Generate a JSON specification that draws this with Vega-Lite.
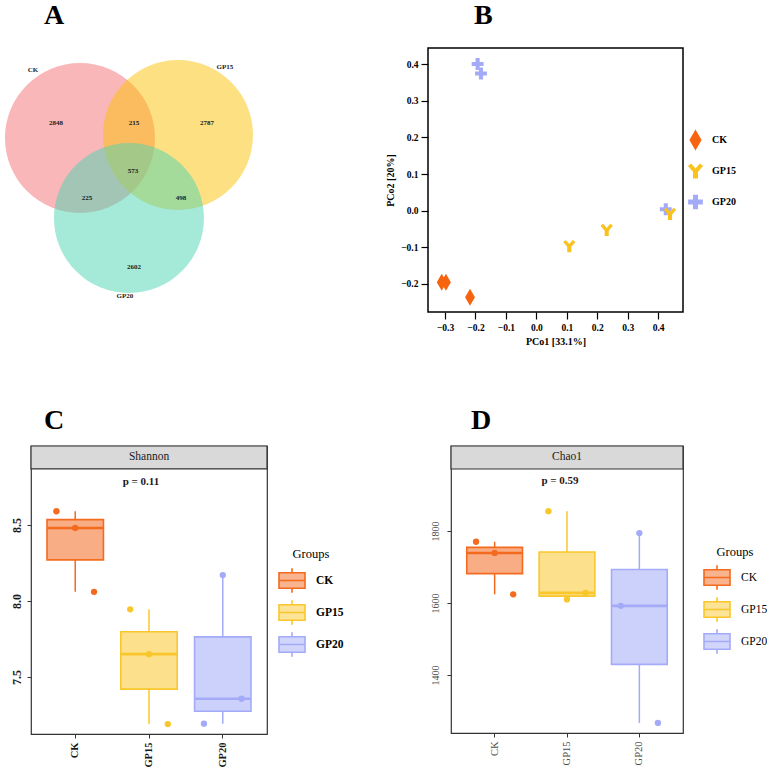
{
  "$schema": "https://vega.github.io/schema/vega-lite/v6.json",
  "background": "white",
  "padding": {"left": 4, "top": 1, "right": 0, "bottom": 0},
  "config": {
    "font": "Liberation Serif",
    "view": {"stroke": null},
    "title": {"font": "Liberation Serif", "fontSize": 28, "fontWeight": "bold", "anchor": "start", "frame": "group", "baseline": "alphabetic", "color": "black"},
    "axis": {"labelFont": "Liberation Serif", "titleFont": "Liberation Serif", "grid": false, "domain": false, "labelOverlap": false},
    "legend": {"labelFont": "Liberation Serif", "titleFont": "Liberation Serif"},
    "text": {"font": "Liberation Serif"}
  },
  "spacing": 58,
  "resolve": {
    "scale": {"color": "independent", "shape": "independent", "stroke": "independent"},
    "legend": {"color": "independent", "shape": "independent", "stroke": "independent"}
  },
  "vconcat": [
    {
      "bounds": "flush",
      "spacing": 184,
      "resolve": {
        "scale": {"color": "independent", "shape": "independent", "stroke": "independent"},
        "legend": {"color": "independent", "shape": "independent", "stroke": "independent"}
      },
      "hconcat": [
        {
          "width": 213,
          "height": 264,
          "title": {"text": "A", "dx": 13, "offset": 18},
          "layer": [
            {
              "data": {"values": [
                {"set": "CK", "cx": 0, "cy": 0},
                {"set": "GP15", "cx": 1.307, "cy": 0.04},
                {"set": "GP20", "cx": 0.653, "cy": -1.067}
              ]},
              "mark": {"type": "point", "shape": "circle", "filled": true, "size": 22500, "opacity": 0.5, "strokeWidth": 0},
              "encoding": {
                "x": {"field": "cx", "type": "quantitative", "scale": {"domain": [-0.653, 2.187], "nice": false, "zero": false}, "axis": null},
                "y": {"field": "cy", "type": "quantitative", "scale": {"domain": [-2.32, 1.2], "nice": false, "zero": false}, "axis": null},
                "color": {"field": "set", "type": "nominal", "scale": {"domain": ["CK", "GP15", "GP20"], "range": ["#F56F73", "#FBC105", "#4BD3B1"]}, "legend": null}
              }
            },
            {
              "data": {"values": [
                {"label": "CK", "ux": -0.627, "uy": 0.907},
                {"label": "GP15", "ux": 1.933, "uy": 0.947},
                {"label": "GP20", "ux": 0.6, "uy": -2.107},
                {"label": "2848", "ux": -0.32, "uy": 0.2},
                {"label": "215", "ux": 0.72, "uy": 0.2},
                {"label": "2787", "ux": 1.693, "uy": 0.2},
                {"label": "573", "ux": 0.707, "uy": -0.44},
                {"label": "225", "ux": 0.093, "uy": -0.8},
                {"label": "498", "ux": 1.347, "uy": -0.8},
                {"label": "2602", "ux": 0.72, "uy": -1.72}
              ]},
              "mark": {"type": "text", "fontSize": 7, "fontWeight": "bold", "color": "#1a1a1a", "baseline": "middle"},
              "encoding": {
                "x": {"field": "ux", "type": "quantitative"},
                "y": {"field": "uy", "type": "quantitative"},
                "text": {"field": "label"}
              }
            }
          ]
        },
        {
          "width": 255,
          "height": 264,
          "title": {"text": "B", "dx": 46, "offset": 18},
          "view": {"stroke": "black", "strokeWidth": 1.5},
          "layer": [
            {
              "mark": {"type": "rule", "color": "#808080", "strokeWidth": 0.9},
              "encoding": {
                "x": {
                  "datum": 0, "type": "quantitative",
                  "scale": {"domain": [-0.356, 0.4816], "nice": false, "zero": false},
                  "axis": {"values": [-0.3, -0.2, -0.1, 0, 0.1, 0.2, 0.3, 0.4], "format": ".1f", "labelOverlap": false, "labelSeparation": 0, "labelBound": false, "title": "PCo1 [33.1%]", "tickColor": "black", "tickSize": 7, "tickWidth": 1.2, "labelFontSize": 9.5, "labelFontWeight": "bold", "labelColor": "black", "labelPadding": 3, "titleFontSize": 10, "titleFontWeight": "bold", "titleColor": "black", "titlePadding": 5}
                }
              }
            },
            {
              "mark": {"type": "rule", "color": "#808080", "strokeWidth": 0.9},
              "encoding": {
                "y": {
                  "datum": 0, "type": "quantitative",
                  "scale": {"domain": [-0.2774, 0.4446], "nice": false, "zero": false},
                  "axis": {"values": [-0.2, -0.1, 0, 0.1, 0.2, 0.3, 0.4], "format": ".1f", "labelOverlap": false, "title": "PCo2 [20%]", "tickColor": "black", "tickSize": 7, "tickWidth": 1.2, "labelFontSize": 9.5, "labelFontWeight": "bold", "labelColor": "black", "labelPadding": 3, "titleFontSize": 10, "titleFontWeight": "bold", "titleColor": "black", "titlePadding": 5}
                }
              }
            },
            {
              "data": {"values": [
                {"group": "GP20", "PCo1": -0.193, "PCo2": 0.401},
                {"group": "GP20", "PCo1": -0.182, "PCo2": 0.375},
                {"group": "GP20", "PCo1": 0.425, "PCo2": 0.0035},
                {"group": "CK", "PCo1": -0.311, "PCo2": -0.196},
                {"group": "CK", "PCo1": -0.297, "PCo2": -0.196},
                {"group": "CK", "PCo1": -0.218, "PCo2": -0.237},
                {"group": "GP15", "PCo1": 0.108, "PCo2": -0.097},
                {"group": "GP15", "PCo1": 0.231, "PCo2": -0.053},
                {"group": "GP15", "PCo1": 0.439, "PCo2": -0.009}
              ]},
              "mark": {"type": "point", "filled": true, "size": 289, "opacity": 1, "strokeWidth": 0},
              "encoding": {
                "x": {
                  "field": "PCo1", "type": "quantitative",
                  "axis": {"values": [-0.3, -0.2, -0.1, 0, 0.1, 0.2, 0.3, 0.4], "format": ".1f", "labelOverlap": false, "labelSeparation": 0, "labelBound": false, "title": "PCo1 [33.1%]", "tickColor": "black", "tickSize": 7, "tickWidth": 1.2, "labelFontSize": 9.5, "labelFontWeight": "bold", "labelColor": "black", "labelPadding": 3, "titleFontSize": 10, "titleFontWeight": "bold", "titleColor": "black", "titlePadding": 5}
                },
                "y": {
                  "field": "PCo2", "type": "quantitative",
                  "axis": {"values": [-0.2, -0.1, 0, 0.1, 0.2, 0.3, 0.4], "format": ".1f", "labelOverlap": false, "title": "PCo2 [20%]", "tickColor": "black", "tickSize": 7, "tickWidth": 1.2, "labelFontSize": 9.5, "labelFontWeight": "bold", "labelColor": "black", "labelPadding": 3, "titleFontSize": 10, "titleFontWeight": "bold", "titleColor": "black", "titlePadding": 5}
                },
                "color": {
                  "field": "group", "type": "nominal",
                  "scale": {"domain": ["CK", "GP15", "GP20"], "range": ["#F7640F", "#FBC11F", "#A3ABF8"]},
                  "legend": {"title": null, "orient": "none", "legendX": 257, "legendY": 81, "symbolSize": 441, "clipHeight": 22, "rowPadding": 9, "labelFontSize": 10, "labelFontWeight": "bold", "labelColor": "black", "labelOffset": 6, "symbolStrokeWidth": 0, "padding": 0}
                },
                "shape": {
                  "field": "group", "type": "nominal",
                  "scale": {"domain": ["CK", "GP15", "GP20"], "range": [
                    "M0,-1L0.58,0L0,1L-0.58,0Z",
                    "M-0.72,-0.48L-0.42,-0.72L0,-0.24L0.42,-0.72L0.72,-0.48L0.24,0.08L0.24,0.72L-0.24,0.72L-0.24,0.08Z",
                    "M-0.24,-0.7H0.24V-0.24H0.7V0.24H0.24V0.7H-0.24V0.24H-0.7V-0.24H-0.24Z"
                  ]},
                  "legend": {"title": null, "orient": "none", "legendX": 257, "legendY": 81, "symbolSize": 441, "clipHeight": 22, "rowPadding": 9, "labelFontSize": 10, "labelFontWeight": "bold", "labelColor": "black", "labelOffset": 6, "symbolStrokeWidth": 0, "padding": 0}
                }
              }
            }
          ]
        }
      ]
    },
    {
      "bounds": "flush",
      "spacing": 184,
      "resolve": {
        "scale": {"color": "independent", "shape": "independent", "stroke": "independent"},
        "legend": {"color": "independent", "shape": "independent", "stroke": "independent"}
      },
      "hconcat": [
        {
          "width": 236,
          "height": 288,
          "title": {"text": "C", "dx": 13, "offset": 10},
          "view": {"stroke": "#333333", "strokeWidth": 1.2},
          "data": {"values": [
            {"group": "CK", "rep": "r1", "value": 8.59},
            {"group": "CK", "rep": "r2", "value": 8.48},
            {"group": "CK", "rep": "r3", "value": 8.06},
            {"group": "GP15", "rep": "r1", "value": 7.945},
            {"group": "GP15", "rep": "r2", "value": 7.65},
            {"group": "GP15", "rep": "r3", "value": 7.19},
            {"group": "GP20", "rep": "r1", "value": 7.193},
            {"group": "GP20", "rep": "r2", "value": 8.17},
            {"group": "GP20", "rep": "r3", "value": 7.357}
          ]},
          "resolve": {"scale": {"xOffset": "independent"}},
          "layer": [
            {
              "transform": [{"aggregate": [
                {"op": "min", "field": "value", "as": "lo"},
                {"op": "q1", "field": "value", "as": "q1"},
                {"op": "median", "field": "value", "as": "mid"},
                {"op": "q3", "field": "value", "as": "q3"},
                {"op": "max", "field": "value", "as": "hi"}
              ], "groupby": ["group"]}],
              "layer": [
                {
                  "mark": {"type": "rule", "strokeWidth": 1.5},
                  "encoding": {
                    "x": {"field": "group", "type": "nominal", "title": null,
                      "scale": {"domain": ["CK", "GP15", "GP20"], "paddingInner": 0.235, "paddingOuter": 0.217},
                      "axis": {"labelAngle": -90, "labelFontSize": 10.5, "labelFontWeight": "bold", "labelColor": "#1a1a1a", "tickColor": "#333333", "tickSize": 4, "labelPadding": 4}},
                    "y": {"field": "lo", "type": "quantitative", "title": null,
                      "scale": {"domain": [7.125, 9.019], "nice": false, "zero": false},
                      "axis": {"values": [7.5, 8, 8.5], "format": ".1f", "labelAngle": -90, "labelFontSize": 12, "labelFontWeight": "bold", "labelColor": "#1a1a1a", "tickColor": "#333333", "tickSize": 4, "labelPadding": 4}},
                    "y2": {"field": "q1"},
                    "color": {"field": "group", "type": "nominal",
                      "scale": {"domain": ["CK", "GP15", "GP20"], "range": ["#F46A1F", "#F9C72C", "#A3ABF8"]},
                      "legend": {"title": "Groups", "orient": "none", "legendX": 247, "legendY": 102, "titleAnchor": "middle", "titleFontSize": 12.5, "titleFontWeight": "normal", "titleColor": "black", "titlePadding": 7,
                        "symbolType": "M-1,-0.6H1V0.6H-1Z M-1,0H1 M0,-0.6V-0.95 M0,0.6V0.95", "symbolSize": 676, "clipHeight": 26, "rowPadding": 6, "labelOffset": 10, "labelFontSize": 11.5, "labelFontWeight": "bold", "labelColor": "black", "padding": 0,
                        "encode": {"symbols": {"update": {
                          "fill": [{"test": "datum.value === 'CK'", "value": "#F46A1F"}, {"test": "datum.value === 'GP15'", "value": "#F9C72C"}, {"value": "#A3ABF8"}],
                          "stroke": [{"test": "datum.value === 'CK'", "value": "#F46A1F"}, {"test": "datum.value === 'GP15'", "value": "#F9C72C"}, {"value": "#A3ABF8"}],
                          "fillOpacity": {"value": 0.5}, "strokeWidth": {"value": 1.6}, "opacity": {"value": 1}
                        }}}}
                    }
                  }
                },
                {
                  "mark": {"type": "rule", "strokeWidth": 1.5},
                  "encoding": {
                    "x": {"field": "group", "type": "nominal", "title": null},
                    "y": {"field": "q3", "type": "quantitative", "title": null},
                    "y2": {"field": "hi"},
                    "color": {"field": "group", "type": "nominal"}
                  }
                },
                {
                  "mark": {"type": "bar", "fillOpacity": 0.55, "strokeWidth": 1.6},
                  "encoding": {
                    "x": {"field": "group", "type": "nominal", "title": null},
                    "y": {"field": "q1", "type": "quantitative", "title": null},
                    "y2": {"field": "q3"},
                    "color": {"field": "group", "type": "nominal"},
                    "stroke": {"field": "group", "type": "nominal", "scale": {"domain": ["CK", "GP15", "GP20"], "range": ["#F46A1F", "#F9C72C", "#A3ABF8"]}, "legend": null}
                  }
                },
                {
                  "mark": {"type": "bar", "fillOpacity": 0, "strokeWidth": 2.6},
                  "encoding": {
                    "x": {"field": "group", "type": "nominal", "title": null},
                    "y": {"field": "mid", "type": "quantitative", "title": null},
                    "y2": {"field": "mid"},
                    "stroke": {"field": "group", "type": "nominal", "legend": null}
                  }
                }
              ]
            },
            {
              "mark": {"type": "point", "shape": "circle", "filled": true, "size": 40, "opacity": 1, "strokeWidth": 0},
              "encoding": {
                "x": {"field": "group", "type": "nominal", "title": null},
                "xOffset": {"field": "rep", "type": "nominal"},
                "y": {"field": "value", "type": "quantitative", "title": null},
                "color": {"field": "group", "type": "nominal"}
              }
            },
            {
              "data": {"values": [{"label": "p = 0.11"}]},
              "mark": {"type": "text", "fontSize": 11, "fontWeight": "bold", "color": "#1a1a1a", "baseline": "middle", "dx": -8},
              "encoding": {
                "y": {"datum": 8.783, "type": "quantitative"},
                "text": {"field": "label"}
              }
            },
            {
              "data": {"values": [{"strip": "Shannon"}]},
              "mark": {"type": "rect", "fill": "#D9D9D9", "stroke": "#333333", "strokeWidth": 1.2},
              "encoding": {
                "y": {"datum": 8.868, "type": "quantitative"},
                "y2": {"datum": 9.019}
              }
            },
            {
              "data": {"values": [{"strip": "Shannon"}]},
              "mark": {"type": "text", "fontSize": 11.5, "color": "#1a1a1a", "baseline": "middle"},
              "encoding": {
                "y": {"datum": 8.9435, "type": "quantitative"},
                "text": {"field": "strip"}
              }
            }
          ]
        },
        {
          "width": 232,
          "height": 287,
          "title": {"text": "D", "dx": 20, "offset": 10},
          "view": {"stroke": "#333333", "strokeWidth": 1.2},
          "data": {"values": [
            {"group": "CK", "rep": "r1", "value": 1770},
            {"group": "CK", "rep": "r2", "value": 1739},
            {"group": "CK", "rep": "r3", "value": 1624},
            {"group": "GP15", "rep": "r1", "value": 1855},
            {"group": "GP15", "rep": "r2", "value": 1610},
            {"group": "GP15", "rep": "r3", "value": 1628},
            {"group": "GP20", "rep": "r1", "value": 1592},
            {"group": "GP20", "rep": "r2", "value": 1794},
            {"group": "GP20", "rep": "r3", "value": 1267}
          ]},
          "resolve": {"scale": {"xOffset": "independent"}},
          "layer": [
            {
              "transform": [{"aggregate": [
                {"op": "min", "field": "value", "as": "lo"},
                {"op": "q1", "field": "value", "as": "q1"},
                {"op": "median", "field": "value", "as": "mid"},
                {"op": "q3", "field": "value", "as": "q3"},
                {"op": "max", "field": "value", "as": "hi"}
              ], "groupby": ["group"]}],
              "layer": [
                {
                  "mark": {"type": "rule", "strokeWidth": 1.5},
                  "encoding": {
                    "x": {"field": "group", "type": "nominal", "title": null,
                      "scale": {"domain": ["CK", "GP15", "GP20"], "paddingInner": 0.23, "paddingOuter": 0.218},
                      "axis": {"labelAngle": -90, "labelFontSize": 10.5, "labelColor": "#4D4D4D", "tickColor": "#333333", "tickSize": 4, "labelPadding": 4}},
                    "y": {"field": "lo", "type": "quantitative", "title": null,
                      "scale": {"domain": [1239, 2035.9], "nice": false, "zero": false},
                      "axis": {"values": [1400, 1600, 1800], "format": "d", "labelAngle": -90, "labelFontSize": 10, "labelColor": "#4D4D4D", "tickColor": "#333333", "tickSize": 4, "labelPadding": 7}},
                    "y2": {"field": "q1"},
                    "color": {"field": "group", "type": "nominal",
                      "scale": {"domain": ["CK", "GP15", "GP20"], "range": ["#F46A1F", "#F9C72C", "#A3ABF8"]},
                      "legend": {"title": "Groups", "orient": "none", "legendX": 252, "legendY": 100, "titleAnchor": "middle", "titleFontSize": 12.5, "titleFontWeight": "normal", "titleColor": "black", "titlePadding": 6,
                        "symbolType": "M-1,-0.6H1V0.6H-1Z M-1,0H1 M0,-0.6V-0.95 M0,0.6V0.95", "symbolSize": 676, "clipHeight": 26, "rowPadding": 6, "labelOffset": 10, "labelFontSize": 11.5, "labelFontWeight": "normal", "labelColor": "black", "padding": 0,
                        "encode": {"symbols": {"update": {
                          "fill": [{"test": "datum.value === 'CK'", "value": "#F46A1F"}, {"test": "datum.value === 'GP15'", "value": "#F9C72C"}, {"value": "#A3ABF8"}],
                          "stroke": [{"test": "datum.value === 'CK'", "value": "#F46A1F"}, {"test": "datum.value === 'GP15'", "value": "#F9C72C"}, {"value": "#A3ABF8"}],
                          "fillOpacity": {"value": 0.5}, "strokeWidth": {"value": 1.6}, "opacity": {"value": 1}
                        }}}}
                    }
                  }
                },
                {
                  "mark": {"type": "rule", "strokeWidth": 1.5},
                  "encoding": {
                    "x": {"field": "group", "type": "nominal", "title": null},
                    "y": {"field": "q3", "type": "quantitative", "title": null},
                    "y2": {"field": "hi"},
                    "color": {"field": "group", "type": "nominal"}
                  }
                },
                {
                  "mark": {"type": "bar", "fillOpacity": 0.55, "strokeWidth": 1.6},
                  "encoding": {
                    "x": {"field": "group", "type": "nominal", "title": null},
                    "y": {"field": "q1", "type": "quantitative", "title": null},
                    "y2": {"field": "q3"},
                    "color": {"field": "group", "type": "nominal"},
                    "stroke": {"field": "group", "type": "nominal", "scale": {"domain": ["CK", "GP15", "GP20"], "range": ["#F46A1F", "#F9C72C", "#A3ABF8"]}, "legend": null}
                  }
                },
                {
                  "mark": {"type": "bar", "fillOpacity": 0, "strokeWidth": 2.6},
                  "encoding": {
                    "x": {"field": "group", "type": "nominal", "title": null},
                    "y": {"field": "mid", "type": "quantitative", "title": null},
                    "y2": {"field": "mid"},
                    "stroke": {"field": "group", "type": "nominal", "legend": null}
                  }
                }
              ]
            },
            {
              "mark": {"type": "point", "shape": "circle", "filled": true, "size": 40, "opacity": 1, "strokeWidth": 0},
              "encoding": {
                "x": {"field": "group", "type": "nominal", "title": null},
                "xOffset": {"field": "rep", "type": "nominal"},
                "y": {"field": "value", "type": "quantitative", "title": null},
                "color": {"field": "group", "type": "nominal"}
              }
            },
            {
              "data": {"values": [{"label": "p = 0.59"}]},
              "mark": {"type": "text", "fontSize": 11, "fontWeight": "bold", "color": "#1a1a1a", "baseline": "middle", "dx": -7},
              "encoding": {
                "y": {"datum": 1939, "type": "quantitative"},
                "text": {"field": "label"}
              }
            },
            {
              "data": {"values": [{"strip": "Chao1"}]},
              "mark": {"type": "rect", "fill": "#D9D9D9", "stroke": "#333333", "strokeWidth": 1.2},
              "encoding": {
                "y": {"datum": 1972, "type": "quantitative"},
                "y2": {"datum": 2035.9}
              }
            },
            {
              "data": {"values": [{"strip": "Chao1"}]},
              "mark": {"type": "text", "fontSize": 11.5, "color": "#1a1a1a", "baseline": "middle"},
              "encoding": {
                "y": {"datum": 2004, "type": "quantitative"},
                "text": {"field": "strip"}
              }
            }
          ]
        }
      ]
    }
  ]
}
